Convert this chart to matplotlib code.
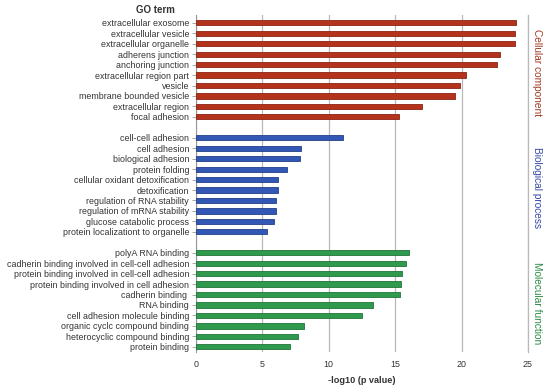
import numpy as np
import matplotlib
matplotlib.use("Agg")
import matplotlib.pyplot as plt

plt.rcParams['font.family'] = ['Liberation Sans', 'DejaVu Sans']

cc_terms = ["extracellular exosome", "extracellular vesicle", "extracellular organelle",
            "adherens junction", "anchoring junction", "extracellular region part",
            "vesicle", "membrane bounded vesicle", "extracellular region", "focal adhesion"]
cc_vals = [24.1, 24.05, 24.05, 22.9, 22.65, 20.3, 19.85, 19.5, 17.0, 15.3]

bp_terms = ["cell-cell adhesion", "cell adhesion", "biological adhesion", "protein folding",
            "cellular oxidant detoxification", "detoxification", "regulation of RNA stability",
            "regulation of mRNA stability", "glucose catabolic process",
            "protein localizationt to organelle"]
bp_vals = [11.1, 7.9, 7.85, 6.85, 6.2, 6.15, 6.0, 6.0, 5.9, 5.35]

mf_terms = ["polyA RNA binding", "cadherin binding involved in cell-cell adhesion",
            "protein binding involved in cell-cell adhesion",
            "protein binding involved in cell adhesion", "cadherin binding ", "RNA binding",
            "cell adhesion molecule binding", "organic cyclc compound binding",
            "heterocyclic compound binding", "protein binding"]
mf_vals = [16.05, 15.8, 15.5, 15.4, 15.35, 13.35, 12.5, 8.1, 7.65, 7.05]

groups = [("Cellular component", cc_terms, cc_vals, "#b5321c", "#8a2412", "#a03a24"),
          ("Biological process", bp_terms, bp_vals, "#3257b5", "#233f8a", "#3548a8"),
          ("Molecular function", mf_terms, mf_vals, "#2f9a4d", "#22733a", "#2b8a45")]

fig = plt.figure(figsize=(5.5, 3.91), dpi=100)
ax = fig.add_axes([0.3564, 0.0997, 0.6036, 0.862])

ticks, labels = [], []
start = 0
for name, terms, vals, col, edge, tcol in groups:
    pos = np.arange(start, start + len(terms))
    ax.barh(pos, vals, height=0.5, color=col, edgecolor=edge, linewidth=0.6, zorder=3)
    ticks += list(pos)
    labels += terms
    ax.text(1.028, pos.mean() + 0.3, name, transform=ax.get_yaxis_transform(),
            rotation=270, ha='center', va='center', fontsize=7.3, color=tcol)
    start += len(terms) + 1

ax.set_ylim(start - 1.5, -0.75)
ax.set_yticks(ticks)
ax.set_yticklabels(labels, fontsize=6.4, color='#333333')
ax.tick_params(axis='y', length=3, width=0.6, color='#999999', pad=2)

ax.set_xlim(0, 25)
ax.set_xticks([0, 5, 10, 15, 20, 25])
ax.tick_params(axis='x', length=0, labelsize=6.4, labelcolor='#333333', pad=6)
ax.grid(axis='x', color='#b8b8b8', linewidth=0.9, zorder=0)
ax.set_xlabel("-log10 (p value)", fontsize=6.6, fontweight='bold', color='#333333', labelpad=5)

for s in ['top', 'bottom']:
    ax.spines[s].set_visible(False)
ax.spines['left'].set_color('#999999')
ax.spines['left'].set_linewidth(0.8)
ax.spines['right'].set_color('#b8b8b8')
ax.spines['right'].set_linewidth(0.9)

fig.text(155 / 550, 1 - 10 / 391, "GO term", fontsize=7, fontweight='bold',
         color='#333333', ha='center', va='center')

fig.savefig("out.png", dpi=100)
